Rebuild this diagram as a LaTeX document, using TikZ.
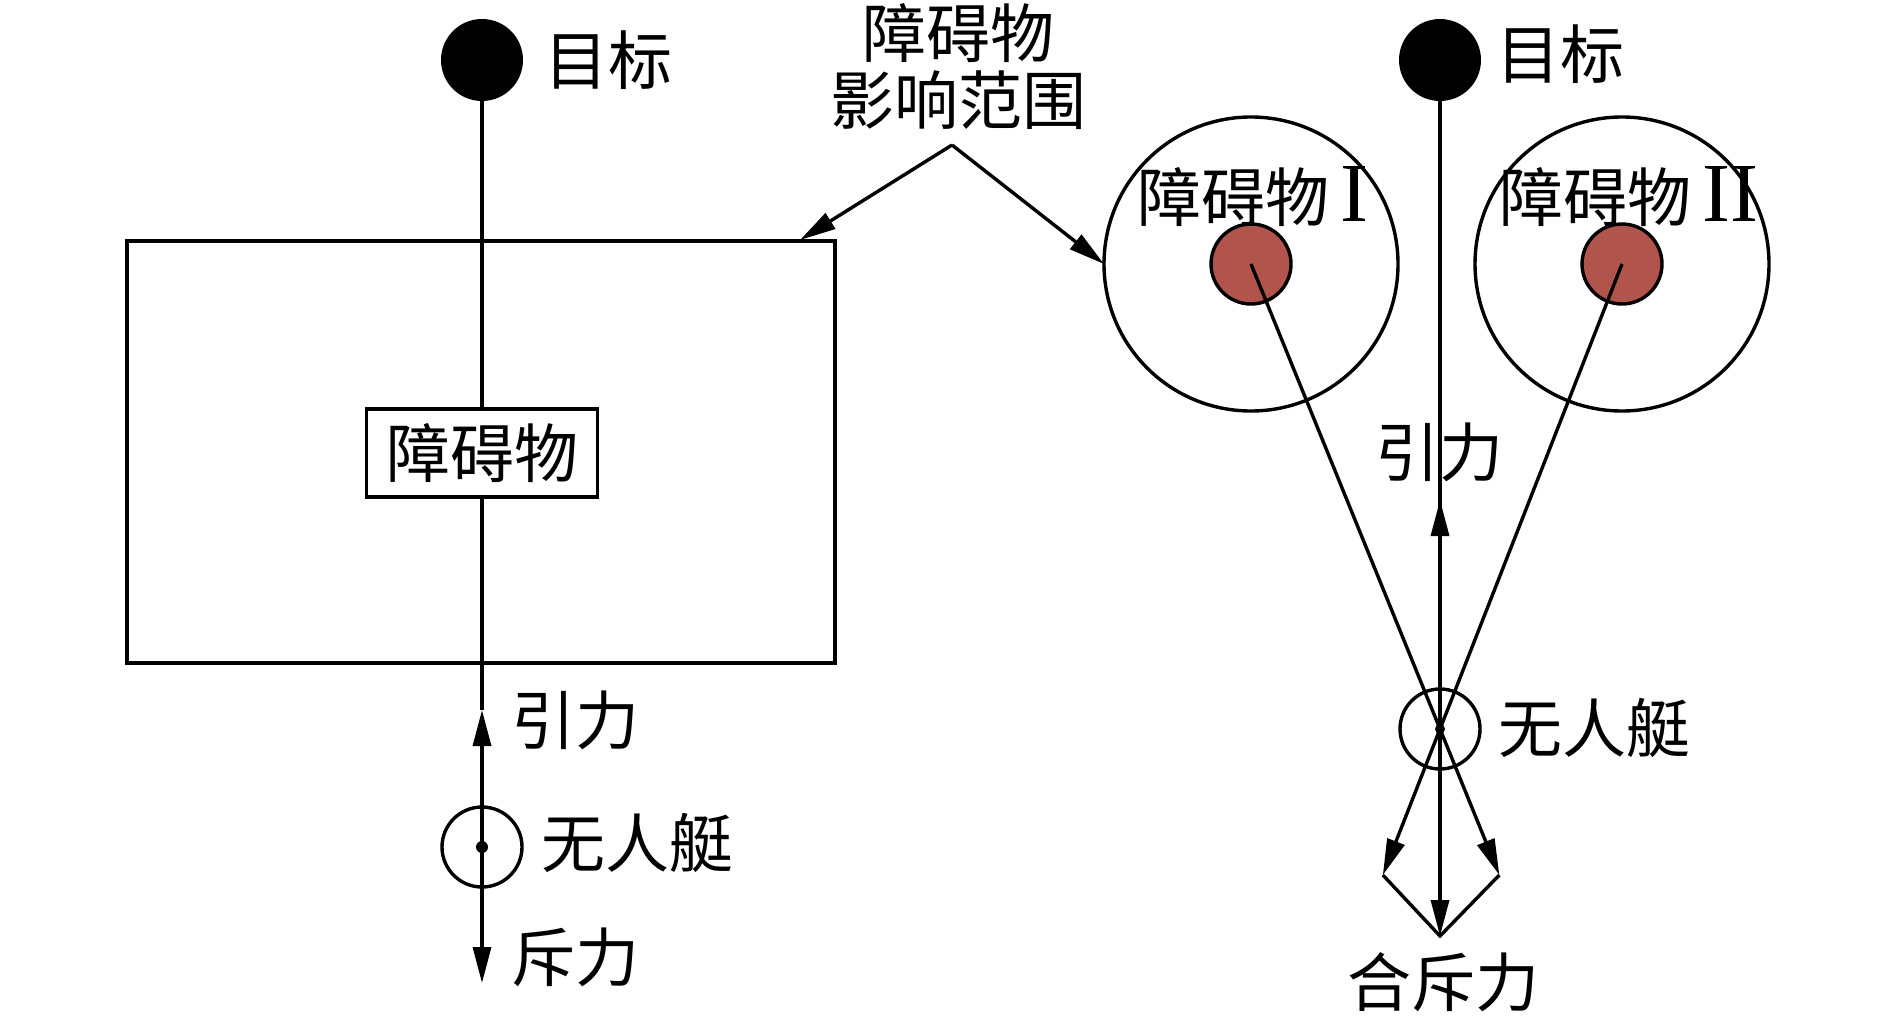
\documentclass[tikz,border=0pt]{standalone}
\usepackage{fontspec}
\newfontfamily\cjk{Noto Sans CJK SC}
\newfontfamily\romanfont{Liberation Serif}
\usetikzlibrary{arrows.meta,calc}
\definecolor{obsred}{RGB}{176,84,76}
\newcommand{\rnum}[1]{{\romanfont\fontsize{42}{42}\selectfont #1}}
\begin{document}
\begin{tikzpicture}[x=0.5pt,y=-0.5pt,
  line width=1.7pt,
  lbl/.style={font=\cjk\fontsize{32}{33.5}\selectfont, inner sep=0pt},
  arr/.style={-{Triangle[length=18pt,width=9pt]}},
  target/.style={circle, fill=black, minimum size=41pt, inner sep=0pt, outer sep=0pt},
  boat/.style={circle, draw, minimum size=40pt, inner sep=0pt, outer sep=0pt},
  zone/.style={circle, draw, minimum size=147pt, inner sep=0pt, outer sep=0pt},
  core/.style={circle, draw, fill=obsred, minimum size=40pt, inner sep=0pt, outer sep=0pt},
  box/.style={draw, inner sep=0pt, outer sep=0pt}
]
\useasboundingbox (0,0) rectangle (1890,1033);
\fill[white] (0,0) rectangle (1890,1033);

% ---------- left scene ----------
\node[box, minimum width=354pt, minimum height=211pt] (rangeL) at (481,452) {};
\node[target] (tgtL) at (482,60) {};
\node[box, lbl, fill=white, minimum width=115.5pt, minimum height=44pt] (obsL) at (482,453) {障碍物};
\node[boat] (boatL) at (482,847) {};
\coordinate (attL) at (482,710);
\coordinate (repL) at (482,983);
\draw (tgtL) -- (obsL);
\draw (obsL) -- (attL);
\draw[arr] (boatL.center) -- (attL);
\draw[arr] (boatL.center) -- (repL);
\fill (boatL.center) circle (6);

\node[lbl, anchor=west] (tgtLtxt) at (543,60) {目标};
\node[lbl, anchor=west] (attLtxt) at (510,720) {引力};
\node[lbl, anchor=west] (boatLtxt) at (540,843) {无人艇};
\node[lbl, anchor=west] (repLtxt) at (510,957) {斥力};

% ---------- right scene ----------
\node[zone] (rngI) at (1251,264) {};
\node[core] (redI) at (1251,264) {};
\node[zone] (rngII) at (1622,264) {};
\node[core] (redII) at (1622,264) {};
\node[target] (tgtR) at (1440,60) {};
\node[boat] (boatR) at (1440,729) {};
\coordinate (attR) at (1440,500);
\coordinate (repI) at ($(redI.center)!1.314!(boatR.center)$);
\coordinate (repII) at ($(redII.center)!1.314!(boatR.center)$);
\coordinate (res) at (1440,936);

\draw (tgtR) -- (boatR.center);
\draw[arr] (boatR.center) -- (attR);
\draw[arr] (redI.center) -- (repI);
\draw[arr] (redII.center) -- (repII);
\draw[arr] (boatR.center) -- (res);
\draw (repII) -- (res) -- (repI);
\fill (boatR.center) circle (5);

\node[lbl, anchor=west] (tgtRtxt) at (1495,54) {目标};
\node[lbl] (obsItxt) at (1253,197) {障碍物\,\rnum{I}};
\node[lbl] (obsIItxt) at (1629,197) {障碍物\,\rnum{II}};
\node[lbl] (attRtxt) at (1439,452) {引力};
\node[lbl, anchor=west] (boatRtxt) at (1497,728) {无人艇};
\node[lbl] (resTxt) at (1443,982) {合斥力};

% ---------- annotation ----------
\node[lbl, align=center] (annot) at (958,67) {障碍物\\影响范围};
\coordinate (apex) at (952,145);
\coordinate (annL) at (800,240);
\draw[arr] (apex) -- (annL);
\draw[arr] (apex) -- (rngI.west);
\end{tikzpicture}
\end{document}
